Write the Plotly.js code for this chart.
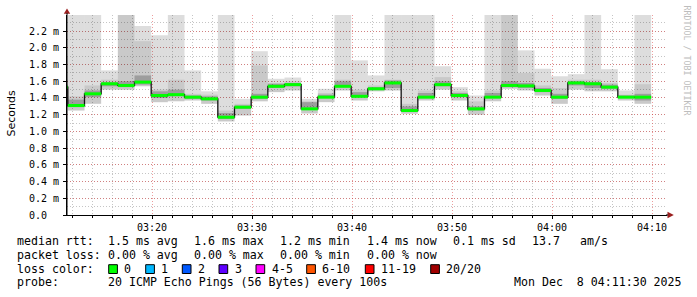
<!DOCTYPE html>
<html><head><meta charset="utf-8">
<script src="https://cdn.plot.ly/plotly-3.0.1.min.js"></script>
<style>html,body{margin:0;padding:0;background:#fff}#chart{width:697px;height:297px}</style>
</head><body><div id="chart"></div>
<script>
// ---- data (ms), one entry per 100 s step, first step starts 03:09:55 ----
const stepSeconds = 100;
const firstStepStart = Date.UTC(2025, 11, 8, 3, 9, 55);
const medianMs = [1.53,1.31,1.45,1.57,1.55,1.59,1.43,1.44,1.41,1.39,1.17,1.29,1.41,1.54,1.56,1.27,1.41,1.54,1.42,1.51,1.58,1.25,1.41,1.56,1.43,1.27,1.41,1.55,1.545,1.49,1.41,1.58,1.57,1.53,1.41,1.41];
const minMs    = [1.45,1.25,1.33,1.50,1.50,1.54,1.35,1.36,1.37,1.33,1.12,1.19,1.36,1.47,1.49,1.215,1.35,1.49,1.37,1.48,1.49,1.21,1.37,1.50,1.37,1.20,1.36,1.51,1.49,1.43,1.33,1.50,1.48,1.48,1.37,1.33];
const maxMs    = [1.89,2.40,2.40,1.73,2.40,2.26,2.15,2.40,1.73,1.48,2.40,1.39,1.96,1.63,1.645,1.39,1.51,2.40,1.85,1.67,2.40,2.40,2.40,1.78,1.53,1.43,2.40,2.40,1.97,1.75,1.66,1.685,2.40,1.745,1.49,2.40];
const upperMs  = [1.62,1.42,1.55,1.62,2.40,2.08,1.50,1.62,1.45,1.44,1.25,1.33,1.79,1.58,1.60,1.36,1.46,1.62,1.50,1.55,1.62,1.33,1.49,1.65,1.48,1.36,1.49,2.40,1.70,1.55,1.52,1.62,1.62,1.58,1.44,1.565];
const coreLoMs = [1.50,1.29,1.41,1.54,1.53,1.56,1.40,1.42,1.39,1.37,1.15,1.27,1.39,1.52,1.54,1.27,1.40,1.53,1.41,1.50,1.52,1.24,1.40,1.54,1.41,1.25,1.40,1.53,1.52,1.47,1.39,1.55,1.52,1.51,1.40,1.37];
const coreHiMs = [1.56,1.38,1.49,1.59,1.60,1.67,1.48,1.50,1.43,1.42,1.22,1.31,1.45,1.57,1.58,1.35,1.44,1.60,1.47,1.53,1.61,1.30,1.46,1.60,1.46,1.30,1.46,1.60,1.58,1.52,1.45,1.60,1.59,1.56,1.43,1.45];

const yTickVals = [0,0.2,0.4,0.6,0.8,1.0,1.2,1.4,1.6,1.8,2.0,2.2];
const yTickText = ['0.0\u00a0\u00a0','0.2 m','0.4 m','0.6 m','0.8 m','1.0 m','1.2 m','1.4 m','1.6 m','1.8 m','2.0 m','2.2 m'];

const rttLabel = 'median rtt:';
const rttStats = ['1.5 ms avg','1.6 ms max','1.2 ms min','1.4 ms now','0.1 ms sd','13.7','am/s'];
const lossLabel = 'packet loss:';
const lossStats = ['0.00 % avg','0.00 % max','0.00 % min','0.00 % now'];
const lossColorLabel = 'loss color:';
const lossBins = ['0','1','2','3','4-5','6-10','11-19','20/20'];
const lossColors = ['#00ff00','#00b8ff','#0059ff','#5e00ff','#ff00ff','#ff5500','#ff0000','#a10000'];
const probeLabel = 'probe:';
const probeText = '20 ICMP Echo Pings (56 Bytes) every 100s';
const stampText = 'Mon Dec\u00a0\u00a08 04:11:30 2025';
const watermark = 'RRDTOOL / TOBI OETIKER';

// ---- layout helpers (pixel -> paper) ----
const L = 67, T = 15, W = 600, H = 200;
const px = x => (x - L) / W;
const py = y => (T + H - y) / H;

const stepMs = stepSeconds * 1000;
const starts = medianMs.map((_, i) => firstStepStart + i * stepMs);
const centers = starts.map(s => s + stepMs / 2);

function band(lo, hi, color) {
  return {type:'bar', x:centers, base:lo, y:hi.map((h,i)=>h-lo[i]), width:starts.map(()=>stepMs),
    marker:{color:color, line:{width:0}}, hoverinfo:'skip', showlegend:false};
}

const stepX = starts.concat([starts[starts.length-1] + stepMs]);
const stepY = medianMs.concat([medianMs[medianMs.length-1]]);
const segX = [], segY = [];
starts.forEach((s,i) => { segX.push(s, s + stepMs, null); segY.push(medianMs[i], medianMs[i], null); });

const traces = [
  band(minMs, maxMs, 'rgba(0,0,0,0.133)'),
  band(minMs, upperMs, 'rgba(0,0,0,0.09)'),
  band(coreLoMs, coreHiMs, 'rgba(0,0,0,0.22)'),
  {type:'scatter', mode:'lines', x:stepX, y:stepY, line:{shape:'hv', color:'#111', width:1.3}, hoverinfo:'skip', showlegend:false},
  {type:'scatter', mode:'lines', x:segX, y:segY, connectgaps:false, line:{color:'#00ff00', width:3}, hoverinfo:'skip', showlegend:false}
];

const mono = 'DejaVu Sans Mono, monospace';
const legendFont = {family:mono, size:11.6, color:'#000'};
const ann = [];
function txt(text, x, y, extra) {
  ann.push(Object.assign({text:text, xref:'paper', yref:'paper', x:px(x), y:py(y), xanchor:'left', yanchor:'middle',
    showarrow:false, borderpad:0, font:legendFont}, extra||{}));
}
const rttX = [107.3,193.3,279.3,366,451.7,530.7,579.3];
txt(rttLabel, 16, 241.3);
rttStats.forEach((s,i)=>txt(s, rttX[i], 241.3));
txt(lossLabel, 16, 254.9);
lossStats.forEach((s,i)=>txt(s, rttX[i], 254.9));
txt(lossColorLabel, 16, 268.6);
const boxX = [108.7,145.7,182.3,219,256,306.7,365.3,430.7];
const shapes = [];
lossBins.forEach((b,i)=>{
  shapes.push({type:'rect', xref:'paper', yref:'paper', x0:px(boxX[i]), x1:px(boxX[i]+8.7), y0:py(273.5), y1:py(264.7),
    fillcolor:lossColors[i], line:{color:'#000', width:1}});
  txt(b, boxX[i]+14.5, 268.6);
});
txt(probeLabel, 16, 282.2);
txt(probeText, 107.3, 282.2);
txt(stampText, 512.7, 282.2);
ann.push({text:'Seconds', xref:'paper', yref:'paper', x:px(10.5), y:py(114), xanchor:'center', yanchor:'middle',
  textangle:-90, showarrow:false, borderpad:0, font:{family:'DejaVu Sans, sans-serif', size:11, color:'#000'}});
ann.push({text:watermark, xref:'paper', yref:'paper', x:px(686.5), y:py(60), xanchor:'center', yanchor:'middle',
  textangle:90, showarrow:false, borderpad:0, font:{family:mono, size:8.3, color:'#bdbdbd'}});

// axis arrows
shapes.push({type:'path', xref:'paper', yref:'paper', path:`M ${px(63.8)},${py(13.8)} L ${px(67)},${py(8.5)} L ${px(70.2)},${py(13.8)} Z`, fillcolor:'#9a1f1f', line:{width:0}});
shapes.push({type:'path', xref:'paper', yref:'paper', path:`M ${px(667.5)},${py(211.8)} L ${px(673.8)},${py(215)} L ${px(667.5)},${py(218.2)} Z`, fillcolor:'#9a1f1f', line:{width:0}});
shapes.push({type:'line', xref:'paper', yref:'paper', x0:px(666), x1:px(668), y0:py(215), y1:py(215), line:{color:'#000', width:1}});
shapes.push({type:'line', xref:'paper', yref:'paper', x0:px(67), x1:px(67), y0:py(216), y1:py(13), line:{color:'#000', width:1}});

const majorGrid = 'rgba(220,60,60,0.5)';
const minorGrid = 'rgba(150,150,150,0.55)';
const layout = {
  width:697, height:297, margin:{l:L, r:697-L-W, t:T, b:297-T-H, pad:0},
  paper_bgcolor:'#fff', plot_bgcolor:'#fff', barmode:'overlay', showlegend:false,
  xaxis:{type:'date', range:['2025-12-08 03:11:30','2025-12-08 04:11:30'], tick0:'2025-12-08 03:20:00', dtick:600000,
    tickformat:'%H:%M', showgrid:true, gridcolor:majorGrid, griddash:'1px,2px', gridwidth:1,
    showline:true, linecolor:'#000', linewidth:1, ticks:'outside', ticklen:3, tickcolor:'#000', zeroline:false,
    tickfont:{family:mono, size:10, color:'#000'}, fixedrange:true, layer:'above traces',
    minor:{dtick:120000, tick0:'2025-12-08 03:12:00', showgrid:true, gridcolor:minorGrid, griddash:'1px,2px', ticks:'outside', ticklen:2, tickcolor:'#000'}},
  yaxis:{range:[0,2.393], tickmode:'array', tickvals:yTickVals, ticktext:yTickText, showgrid:true, gridcolor:majorGrid,
    griddash:'1px,2px', showline:true, linecolor:'#000', ticks:'outside', ticklen:3, tickcolor:'#000', zeroline:false,
    tickfont:{family:mono, size:10, color:'#000'}, fixedrange:true, layer:'above traces', ticklabelstandoff:2,
    minor:{dtick:0.1, tick0:0, showgrid:true, gridcolor:minorGrid, griddash:'1px,2px'}},
  annotations:ann, shapes:shapes
};
Plotly.newPlot('chart', traces, layout, {staticPlot:true, displayModeBar:false});
</script>
</body></html>
